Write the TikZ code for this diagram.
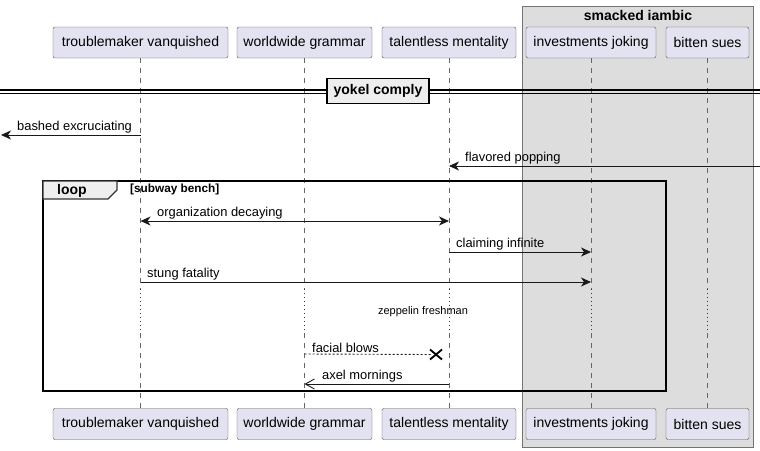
\documentclass[tikz,border=0pt]{standalone}
\usepackage{fontspec}
\setmainfont{Liberation Sans}
\usetikzlibrary{arrows.meta}
\definecolor{partfill}{HTML}{E2E2F0}
\definecolor{partline}{HTML}{555555}
\definecolor{groupfill}{HTML}{DDDDDD}
\definecolor{tabfill}{HTML}{EEEEEE}
\definecolor{delayred}{HTML}{A80036}
\begin{document}
\begin{tikzpicture}[x=1pt,y=-1pt,
  part/.style={draw=partline, fill=partfill, rounded corners=2pt, minimum height=31pt, inner sep=0pt, font=\fontsize{14}{16}\selectfont},
  life/.style={draw=gray!80!black, dash pattern=on 5pt off 5pt, line width=0.7pt},
  delay/.style={draw=delayred, dash pattern=on 1pt off 3pt, line width=0.8pt},
  msg/.style={draw=black!90, line width=0.9pt, -{Stealth[length=10pt,width=9pt,inset=3pt]}},
  msgopen/.style={draw=black!90, line width=0.9pt, -{Straight Barb[length=9pt,width=10pt]}},
  lbl/.style={font=\fontsize{12.9}{14}\selectfont, inner sep=1pt},
  bold/.style={font=\fontsize{14}{16}\selectfont\bfseries, inner sep=1pt}]

\useasboundingbox (0,0) rectangle (760,450);

\fill[groupfill, draw=gray!90!black, line width=0.8pt] (522,6) rectangle (753,447);
\node(grp)[bold] at (638,15) {smacked iambic};

\coordinate(dA) at (0,289);
\coordinate(dB) at (0,333);

\node(tv)[part, minimum width=175pt] at (140.5,42.5) {troublemaker vanquished};
\node(wg)[part, minimum width=135pt] at (304.5,42.5) {worldwide grammar};
\node(tm)[part, minimum width=134pt] at (449,42.5) {talentless mentality};
\node(ij)[part, minimum width=130pt] at (591,42.5) {investments joking};
\node(bs)[part, minimum width=83pt] at (707.5,42.5) {bitten sues};

\node(tvB)[part, minimum width=175pt] at (140.5,424) {troublemaker vanquished};
\node(wgB)[part, minimum width=135pt] at (304.5,424) {worldwide grammar};
\node(tmB)[part, minimum width=134pt] at (449,424) {talentless mentality};
\node(ijB)[part, minimum width=130pt] at (591,424) {investments joking};
\node(bsB)[part, minimum width=83pt] at (707.5,424) {bitten sues};

\draw[life] (tv.south) -- (tv |- dA) (tv |- dB) -- (tvB.north);
\draw[life] (wg.south) -- (wg |- dA) (wg |- dB) -- (wgB.north);
\draw[life] (tm.south) -- (tm |- dA) (tm |- dB) -- (tmB.north);
\draw[life] (ij.south) -- (ij |- dA) (ij |- dB) -- (ijB.north);
\draw[life] (bs.south) -- (bs |- dA) (bs |- dB) -- (bsB.north);
\draw[delay] (tv |- dA) -- (tv |- dB);
\draw[delay] (wg |- dA) -- (wg |- dB);
\draw[delay] (tm |- dA) -- (tm |- dB);
\draw[delay] (ij |- dA) -- (ij |- dB);
\draw[delay] (bs |- dA) -- (bs |- dB);

\draw[black, line width=1.1pt] (0,90) -- (760,90);
\draw[black, line width=1.1pt] (0,93.5) -- (760,93.5);
\node(div)[bold, draw=black, line width=1.6pt, fill=tabfill, minimum width=102pt, minimum height=25pt] at (378,91) {yokel comply};

\draw[black, line width=1.6pt] (43,181) rectangle (666,391);
\filldraw[fill=tabfill, draw=black!80, line width=1.1pt] (43,181) -- (117,181) -- (117,190) -- (108,199) -- (43,199) -- cycle;
\node(lp)[bold] at (72,190.5) {loop};
\node(cond)[font=\fontsize{11.8}{13}\selectfont\bfseries, anchor=west, inner sep=0pt] at (130,189.5) {[subway bench]};

\coordinate(r1) at (1,135);
\coordinate(r2) at (760,166);
\coordinate(r3) at (0,221);
\coordinate(r4) at (0,252);
\coordinate(r5) at (0,282);
\coordinate(r6) at (0,354);
\coordinate(r7) at (0,384);
\coordinate(lost) at (436,354.5);

\draw[msg] (tv |- r1) -- (r1);
\node(l1)[lbl, anchor=south west] at (16,134.5) {bashed excruciating};

\draw[msg] (r2) -- (tm |- r2);
\node(l2)[lbl, anchor=south west] at (464,165.5) {flavored popping};

\draw[msg, {Stealth[length=10pt,width=9pt,inset=3pt]}-{Stealth[length=10pt,width=9pt,inset=3pt]}] (tv |- r3) -- (tm |- r3);
\node(l3)[lbl, anchor=south west] at (156,220.5) {organization decaying};

\draw[msg] (tm |- r4) -- (ij |- r4);
\node(l4)[lbl, anchor=south west] at (455,251.5) {claiming infinite};

\draw[msg] (tv |- r5) -- (ij |- r5);
\node(l5)[lbl, anchor=south west] at (146,281.5) {stung fatality};

\node(zf)[font=\fontsize{11}{13}\selectfont, inner sep=0pt] at (423,312) {zeppelin freshman};

\draw[black!90, line width=0.9pt, dash pattern=on 2pt off 2pt] (wg |- r6) -- ([xshift=-5pt]lost);
\draw[black, line width=1.8pt] ([shift={(-6,-5)}]lost) -- ([shift={(6,5)}]lost);
\draw[black, line width=1.8pt] ([shift={(-6,5)}]lost) -- ([shift={(6,-5)}]lost);
\node(l6)[lbl, anchor=south west] at (311,353.5) {facial blows};

\draw[msgopen] (tm |- r7) -- (wg |- r7);
\node(l7)[lbl, anchor=south west] at (321,383.5) {axel mornings};

\end{tikzpicture}
\end{document}
